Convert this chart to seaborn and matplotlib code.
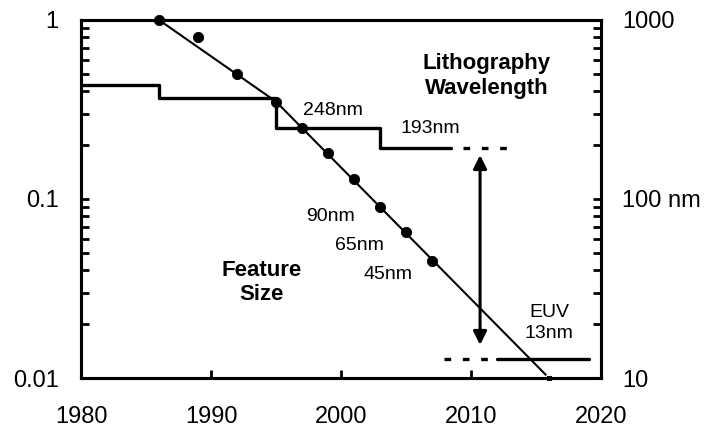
import matplotlib
matplotlib.use("Agg")
import matplotlib.pyplot as plt
import seaborn as sns
import numpy as np
import pandas as pd

# ---- data ----
feature_years = [1986, 1989, 1992, 1995, 1997, 1999, 2001, 2003, 2005, 2007]
feature_size_um = [1.0, 0.80, 0.50, 0.35, 0.25, 0.18, 0.13, 0.09, 0.065, 0.045]

trend_years = [1986, 1995, 2016]
trend_size_um = [1.0, 0.35, 0.01]

litho_years = [1980, 1986, 1995, 2003, 2008.5]
litho_wavelength_um = [0.436, 0.365, 0.248, 0.193, 0.193]

litho_193_dash_years = [2009.4, 2013.0]
litho_193_dash_um = [0.193, 0.193]

euv_dash_years = [2007.9, 2011.5]
euv_solid_years = [2012.0, 2019.1]
euv_um = [0.0128, 0.0128]

arrow_year = 2010.7
arrow_top_um = 0.176
arrow_bottom_um = 0.0153

left_ticks = [0.01, 0.1, 1]
left_ticklabels = ["0.01", "0.1", "1"]
right_ticks = [10, 100, 1000]
right_ticklabels = ["10", "100 nm", "1000"]
x_ticks = [1980, 1990, 2000, 2010, 2020]

sns.set_style("white")
plt.rcParams["font.family"] = ["Liberation Sans", "DejaVu Sans"]
plt.rcParams["text.color"] = "black"
plt.rcParams["xtick.color"] = "black"
plt.rcParams["ytick.color"] = "black"
plt.rcParams["xtick.labelcolor"] = "black"
plt.rcParams["ytick.labelcolor"] = "black"

fig = plt.figure(figsize=(7.07, 4.28), dpi=100)
ax = fig.add_axes([0.1146, 0.1168, 0.7354, 0.8365])

# feature-size trend line
trend_df = pd.DataFrame({"year": trend_years, "size": trend_size_um})
sns.lineplot(data=trend_df, x="year", y="size", ax=ax, color="black", lw=1.5,
             marker="s", markersize=4, markevery=[2], clip_on=False, zorder=3)

# feature-size points
feat_df = pd.DataFrame({"year": feature_years, "size": feature_size_um})
sns.scatterplot(data=feat_df, x="year", y="size", ax=ax, color="black", s=55,
                edgecolor="black", clip_on=False, zorder=4)

# lithography wavelength step line
litho_df = pd.DataFrame({"year": litho_years, "wl": litho_wavelength_um})
sns.lineplot(data=litho_df, x="year", y="wl", ax=ax, color="black", lw=2.4,
             drawstyle="steps-post", sort=False, zorder=3)

d193 = pd.DataFrame({"year": litho_193_dash_years, "wl": litho_193_dash_um})
sns.lineplot(data=d193, x="year", y="wl", ax=ax, color="black", lw=2.4,
             linestyle=(0, (2, 3.5)), zorder=3)

deuv = pd.DataFrame({"year": euv_dash_years, "wl": euv_um})
sns.lineplot(data=deuv, x="year", y="wl", ax=ax, color="black", lw=2.4,
             linestyle=(0, (2, 3.5)), zorder=3)
seuv = pd.DataFrame({"year": euv_solid_years, "wl": euv_um})
sns.lineplot(data=seuv, x="year", y="wl", ax=ax, color="black", lw=2.4, zorder=3)

# double-headed arrow
ax.annotate("", xy=(arrow_year, arrow_bottom_um), xytext=(arrow_year, arrow_top_um),
            arrowprops=dict(arrowstyle="<|-|>", lw=2.2, color="black",
                            mutation_scale=20, shrinkA=0, shrinkB=0))

# text labels
ax.text(1999.4, 0.314, "248nm", ha="center", va="center", fontsize=14)
ax.text(2006.9, 0.249, "193nm", ha="center", va="center", fontsize=14)
ax.text(2011.2, 0.487, "Lithography\nWavelength", ha="center", va="center",
        fontsize=16, fontweight="bold", linespacing=1.22)
ax.text(1999.2, 0.0803, "90nm", ha="center", va="center", fontsize=14)
ax.text(2001.4, 0.0553, "65nm", ha="center", va="center", fontsize=14)
ax.text(2003.65, 0.0381, "45nm", ha="center", va="center", fontsize=14)
ax.text(1993.9, 0.034, "Feature\nSize", ha="center", va="center",
        fontsize=16, fontweight="bold", linespacing=1.2)
ax.text(2016.0, 0.0204, "EUV\n13nm", ha="center", va="center", fontsize=14,
        linespacing=1.3)

ax.set_yscale("log")
ax.set_xlim(1980, 2020)
ax.set_ylim(0.01, 1)
ax.set_xticks(x_ticks)
ax.set_yticks(left_ticks)
ax.set_yticklabels(left_ticklabels)
ax.set_xlabel("")
ax.set_ylabel("")
ax.tick_params(axis="x", direction="in", length=6, width=2, labelsize=17, pad=20)
ax.tick_params(axis="y", which="major", direction="in", length=6, width=2,
               labelsize=17, pad=16)
ax.tick_params(axis="y", which="minor", direction="in", length=6, width=2, left=True)
ax.yaxis.set_minor_formatter(matplotlib.ticker.NullFormatter())
ax.xaxis.set_ticks_position("bottom")
for sp in ax.spines.values():
    sp.set_linewidth(2.2)
    sp.set_color("black")

ax2 = ax.twinx()
ax2.set_yscale("log")
ax2.set_ylim(10, 1000)
ax2.set_yticks(right_ticks)
ax2.set_yticklabels(right_ticklabels)
ax2.tick_params(axis="y", which="major", direction="in", length=6, width=2,
                labelsize=17, pad=15)
ax2.tick_params(axis="y", which="minor", direction="in", length=6, width=2, right=True)
ax2.yaxis.set_minor_formatter(matplotlib.ticker.NullFormatter())
for sp in ax2.spines.values():
    sp.set_linewidth(2.2)
    sp.set_color("black")

fig.savefig("out.png", dpi=100)
